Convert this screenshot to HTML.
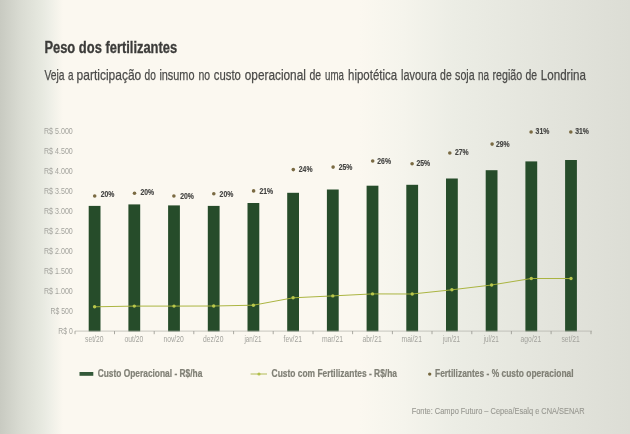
<!DOCTYPE html>
<html lang="pt-BR"><head><meta charset="utf-8"><title>Peso dos fertilizantes</title>
<style>
html,body{margin:0;padding:0;background:#fbf8f0;}
body{width:630px;height:434px;overflow:hidden;}
svg{display:block;will-change:transform;font-family:"Liberation Sans",sans-serif;}
</style></head><body>
<svg width="630" height="434" viewBox="0 0 630 434">
<defs>
<linearGradient id="bg" x1="0" y1="0" x2="1" y2="0">
<stop offset="0" stop-color="#c8cac1"/>
<stop offset="0.032" stop-color="#d9dbd2"/>
<stop offset="0.064" stop-color="#e6e8df"/>
<stop offset="0.078" stop-color="#edeee6"/>
<stop offset="0.100" stop-color="#fbf8f0"/>
<stop offset="0.57" stop-color="#fbf8f0"/>
<stop offset="0.64" stop-color="#f5f4ec"/>
<stop offset="0.72" stop-color="#ecede5"/>
<stop offset="0.84" stop-color="#e5e6de"/>
<stop offset="1" stop-color="#dcddd5"/>
</linearGradient>
</defs>
<rect width="630" height="434" fill="url(#bg)"/>

<text x="44.4" y="53" font-size="15.6" font-weight="bold" fill="#3b3b39" stroke="#3b3b39" stroke-width="0.3" textLength="132.8" lengthAdjust="spacingAndGlyphs">Peso dos fertilizantes</text>
<g font-size="15" fill="#4b4b49" stroke="#4b4b49" stroke-width="0.25">
<text x="44.5" y="79.9" textLength="20.1" lengthAdjust="spacingAndGlyphs">Veja</text>
<text x="68.0" y="79.9" textLength="5.5" lengthAdjust="spacingAndGlyphs">a</text>
<text x="76.6" y="79.9" textLength="64.7" lengthAdjust="spacingAndGlyphs">participação</text>
<text x="144.6" y="79.9" textLength="11.3" lengthAdjust="spacingAndGlyphs">do</text>
<text x="159.4" y="79.9" textLength="35.1" lengthAdjust="spacingAndGlyphs">insumo</text>
<text x="198.4" y="79.9" textLength="11.6" lengthAdjust="spacingAndGlyphs">no</text>
<text x="213.8" y="79.9" textLength="27.1" lengthAdjust="spacingAndGlyphs">custo</text>
<text x="244.8" y="79.9" textLength="61.1" lengthAdjust="spacingAndGlyphs">operacional</text>
<text x="309.5" y="79.9" textLength="11.7" lengthAdjust="spacingAndGlyphs">de</text>
<text x="325.1" y="79.9" textLength="18.9" lengthAdjust="spacingAndGlyphs">uma</text>
<text x="348.1" y="79.9" textLength="49.0" lengthAdjust="spacingAndGlyphs">hipotética</text>
<text x="401.1" y="79.9" textLength="35.8" lengthAdjust="spacingAndGlyphs">lavoura</text>
<text x="440.1" y="79.9" textLength="11.6" lengthAdjust="spacingAndGlyphs">de</text>
<text x="455.1" y="79.9" textLength="19.6" lengthAdjust="spacingAndGlyphs">soja</text>
<text x="477.9" y="79.9" textLength="11.0" lengthAdjust="spacingAndGlyphs">na</text>
<text x="492.5" y="79.9" textLength="29.7" lengthAdjust="spacingAndGlyphs">região</text>
<text x="525.5" y="79.9" textLength="11.6" lengthAdjust="spacingAndGlyphs">de</text>
<text x="540.8" y="79.9" textLength="45.1" lengthAdjust="spacingAndGlyphs">Londrina</text>
</g>
<text x="44.0" y="134.3" font-size="8.5" fill="#a3a39d" textLength="28.8" lengthAdjust="spacingAndGlyphs">R$ 5.000</text>
<text x="44.0" y="154.2" font-size="8.5" fill="#a3a39d" textLength="28.8" lengthAdjust="spacingAndGlyphs">R$ 4.500</text>
<text x="44.0" y="174.1" font-size="8.5" fill="#a3a39d" textLength="28.8" lengthAdjust="spacingAndGlyphs">R$ 4.000</text>
<text x="44.0" y="194.1" font-size="8.5" fill="#a3a39d" textLength="28.8" lengthAdjust="spacingAndGlyphs">R$ 3.500</text>
<text x="44.0" y="214.0" font-size="8.5" fill="#a3a39d" textLength="28.8" lengthAdjust="spacingAndGlyphs">R$ 3.000</text>
<text x="44.0" y="233.9" font-size="8.5" fill="#a3a39d" textLength="28.8" lengthAdjust="spacingAndGlyphs">R$ 2.500</text>
<text x="44.0" y="253.8" font-size="8.5" fill="#a3a39d" textLength="28.8" lengthAdjust="spacingAndGlyphs">R$ 2.000</text>
<text x="44.0" y="273.7" font-size="8.5" fill="#a3a39d" textLength="28.8" lengthAdjust="spacingAndGlyphs">R$ 1.500</text>
<text x="44.0" y="293.7" font-size="8.5" fill="#a3a39d" textLength="28.8" lengthAdjust="spacingAndGlyphs">R$ 1.000</text>
<text x="50.5" y="313.6" font-size="8.5" fill="#a3a39d" textLength="22.3" lengthAdjust="spacingAndGlyphs">R$ 500</text>
<text x="58.3" y="333.5" font-size="8.5" fill="#a3a39d" textLength="14.5" lengthAdjust="spacingAndGlyphs">R$ 0</text>
<rect x="88.7" y="205.9" width="11.8" height="125.5" fill="#264c2a"/>
<rect x="128.4" y="204.4" width="11.8" height="127.0" fill="#264c2a"/>
<rect x="168.1" y="205.4" width="11.8" height="126.0" fill="#264c2a"/>
<rect x="207.8" y="205.9" width="11.8" height="125.5" fill="#264c2a"/>
<rect x="247.5" y="203.0" width="11.8" height="128.4" fill="#264c2a"/>
<rect x="287.2" y="192.8" width="11.8" height="138.6" fill="#264c2a"/>
<rect x="326.9" y="189.5" width="11.8" height="141.9" fill="#264c2a"/>
<rect x="366.6" y="185.7" width="11.8" height="145.7" fill="#264c2a"/>
<rect x="406.3" y="184.8" width="11.8" height="146.6" fill="#264c2a"/>
<rect x="446.0" y="178.5" width="11.8" height="152.9" fill="#264c2a"/>
<rect x="485.7" y="170.2" width="11.8" height="161.2" fill="#264c2a"/>
<rect x="525.4" y="161.4" width="11.8" height="170.0" fill="#264c2a"/>
<rect x="565.1" y="160.0" width="11.8" height="171.4" fill="#264c2a"/>
<path d="M75 331.1H592" stroke="#b0b0a9" stroke-width="0.7" fill="none"/>
<path d="M75.0 331.1v3.1M114.5 331.1v3.1M154.2 331.1v3.1M193.8 331.1v3.1M233.6 331.1v3.1M273.2 331.1v3.1M313.0 331.1v3.1M352.6 331.1v3.1M392.4 331.1v3.1M432.0 331.1v3.1M471.8 331.1v3.1M511.4 331.1v3.1M551.1 331.1v3.1M591.0 331.1v3.1" stroke="#8d8d87" stroke-width="0.75" fill="none"/>
<polyline points="94.6,306.8 134.3,306.1 174.0,306.1 213.7,306.0 253.4,305.2 293.1,297.8 332.8,295.9 372.5,293.9 412.2,294.0 451.9,289.8 491.6,285.0 531.3,278.5 571.0,278.5" fill="none" stroke="#a6b138" stroke-width="0.95"/>
<circle cx="94.6" cy="306.8" r="1.7" fill="#b8c74c"/>
<circle cx="134.3" cy="306.1" r="1.7" fill="#b8c74c"/>
<circle cx="174.0" cy="306.1" r="1.7" fill="#b8c74c"/>
<circle cx="213.7" cy="306.0" r="1.7" fill="#b8c74c"/>
<circle cx="253.4" cy="305.2" r="1.7" fill="#b8c74c"/>
<circle cx="293.1" cy="297.8" r="1.7" fill="#b8c74c"/>
<circle cx="332.8" cy="295.9" r="1.7" fill="#b8c74c"/>
<circle cx="372.5" cy="293.9" r="1.7" fill="#b8c74c"/>
<circle cx="412.2" cy="294.0" r="1.7" fill="#b8c74c"/>
<circle cx="451.9" cy="289.8" r="1.7" fill="#b8c74c"/>
<circle cx="491.6" cy="285.0" r="1.7" fill="#b8c74c"/>
<circle cx="531.3" cy="278.5" r="1.7" fill="#b8c74c"/>
<circle cx="571.0" cy="278.5" r="1.7" fill="#b8c74c"/>
<circle cx="94.7" cy="196.0" r="1.8" fill="#7a6a42"/>
<text x="100.7" y="196.9" font-size="8.2" font-weight="bold" fill="#444442" stroke="#444442" stroke-width="0.15" textLength="13.7" lengthAdjust="spacingAndGlyphs">20%</text>
<circle cx="134.5" cy="193.2" r="1.8" fill="#7a6a42"/>
<text x="140.4" y="194.9" font-size="8.2" font-weight="bold" fill="#444442" stroke="#444442" stroke-width="0.15" textLength="13.7" lengthAdjust="spacingAndGlyphs">20%</text>
<circle cx="173.9" cy="196.0" r="1.8" fill="#7a6a42"/>
<text x="180.2" y="198.8" font-size="8.2" font-weight="bold" fill="#444442" stroke="#444442" stroke-width="0.15" textLength="13.7" lengthAdjust="spacingAndGlyphs">20%</text>
<circle cx="213.8" cy="193.7" r="1.8" fill="#7a6a42"/>
<text x="219.6" y="196.9" font-size="8.2" font-weight="bold" fill="#444442" stroke="#444442" stroke-width="0.15" textLength="13.7" lengthAdjust="spacingAndGlyphs">20%</text>
<circle cx="253.6" cy="190.9" r="1.8" fill="#7a6a42"/>
<text x="259.5" y="193.5" font-size="8.2" font-weight="bold" fill="#444442" stroke="#444442" stroke-width="0.15" textLength="13.7" lengthAdjust="spacingAndGlyphs">21%</text>
<circle cx="293.3" cy="169.6" r="1.8" fill="#7a6a42"/>
<text x="298.8" y="172.2" font-size="8.2" font-weight="bold" fill="#444442" stroke="#444442" stroke-width="0.15" textLength="13.7" lengthAdjust="spacingAndGlyphs">24%</text>
<circle cx="333.1" cy="167.1" r="1.8" fill="#7a6a42"/>
<text x="338.7" y="170.0" font-size="8.2" font-weight="bold" fill="#444442" stroke="#444442" stroke-width="0.15" textLength="13.7" lengthAdjust="spacingAndGlyphs">25%</text>
<circle cx="372.7" cy="161.0" r="1.8" fill="#7a6a42"/>
<text x="377.3" y="164.0" font-size="8.2" font-weight="bold" fill="#444442" stroke="#444442" stroke-width="0.15" textLength="13.7" lengthAdjust="spacingAndGlyphs">26%</text>
<circle cx="412.1" cy="163.8" r="1.8" fill="#7a6a42"/>
<text x="416.5" y="166.2" font-size="8.2" font-weight="bold" fill="#444442" stroke="#444442" stroke-width="0.15" textLength="13.7" lengthAdjust="spacingAndGlyphs">25%</text>
<circle cx="449.8" cy="153.0" r="1.8" fill="#7a6a42"/>
<text x="454.9" y="155.3" font-size="8.2" font-weight="bold" fill="#444442" stroke="#444442" stroke-width="0.15" textLength="13.7" lengthAdjust="spacingAndGlyphs">27%</text>
<circle cx="492.1" cy="144.1" r="1.8" fill="#7a6a42"/>
<text x="495.9" y="146.8" font-size="8.2" font-weight="bold" fill="#444442" stroke="#444442" stroke-width="0.15" textLength="13.7" lengthAdjust="spacingAndGlyphs">29%</text>
<circle cx="531.1" cy="132.0" r="1.8" fill="#7a6a42"/>
<text x="535.6" y="134.4" font-size="8.2" font-weight="bold" fill="#444442" stroke="#444442" stroke-width="0.15" textLength="13.7" lengthAdjust="spacingAndGlyphs">31%</text>
<circle cx="570.8" cy="132.0" r="1.8" fill="#7a6a42"/>
<text x="575.2" y="134.4" font-size="8.2" font-weight="bold" fill="#444442" stroke="#444442" stroke-width="0.15" textLength="13.7" lengthAdjust="spacingAndGlyphs">31%</text>
<text x="85.0" y="342.4" font-size="8.2" fill="#a3a39d" textLength="18.4" lengthAdjust="spacingAndGlyphs">set/20</text>
<text x="124.5" y="342.4" font-size="8.2" fill="#a3a39d" textLength="18.8" lengthAdjust="spacingAndGlyphs">out/20</text>
<text x="163.4" y="342.4" font-size="8.2" fill="#a3a39d" textLength="20.3" lengthAdjust="spacingAndGlyphs">nov/20</text>
<text x="203.1" y="342.4" font-size="8.2" fill="#a3a39d" textLength="20.3" lengthAdjust="spacingAndGlyphs">dez/20</text>
<text x="244.4" y="342.4" font-size="8.2" fill="#a3a39d" textLength="17.1" lengthAdjust="spacingAndGlyphs">jan/21</text>
<text x="283.5" y="342.4" font-size="8.2" fill="#a3a39d" textLength="18.4" lengthAdjust="spacingAndGlyphs">fev/21</text>
<text x="321.9" y="342.4" font-size="8.2" fill="#a3a39d" textLength="21.1" lengthAdjust="spacingAndGlyphs">mar/21</text>
<text x="362.5" y="342.4" font-size="8.2" fill="#a3a39d" textLength="19.2" lengthAdjust="spacingAndGlyphs">abr/21</text>
<text x="401.6" y="342.4" font-size="8.2" fill="#a3a39d" textLength="20.3" lengthAdjust="spacingAndGlyphs">mai/21</text>
<text x="442.9" y="342.4" font-size="8.2" fill="#a3a39d" textLength="17.1" lengthAdjust="spacingAndGlyphs">jun/21</text>
<text x="483.7" y="342.4" font-size="8.2" fill="#a3a39d" textLength="15.0" lengthAdjust="spacingAndGlyphs">jul/21</text>
<text x="520.6" y="342.4" font-size="8.2" fill="#a3a39d" textLength="20.7" lengthAdjust="spacingAndGlyphs">ago/21</text>
<text x="561.4" y="342.4" font-size="8.2" fill="#a3a39d" textLength="18.4" lengthAdjust="spacingAndGlyphs">set/21</text>
<rect x="79.5" y="372" width="13.8" height="3.8" fill="#335939"/>
<text x="97.7" y="377.2" font-size="10.3" font-weight="bold" fill="#808076" stroke="#808076" stroke-width="0.22" textLength="104.6" lengthAdjust="spacingAndGlyphs">Custo Operacional - R$/ha</text>
<path d="M250.6 374H267" stroke="#a9b446" stroke-width="0.9"/><circle cx="259" cy="374" r="1.6" fill="#b2c04a"/>
<text x="271.6" y="377.2" font-size="10.3" font-weight="bold" fill="#808076" stroke="#808076" stroke-width="0.22" textLength="125.4" lengthAdjust="spacingAndGlyphs">Custo com Fertilizantes - R$/ha</text>
<circle cx="429.7" cy="374.1" r="1.7" fill="#76683f"/>
<text x="435" y="377.2" font-size="10.3" font-weight="bold" fill="#808076" stroke="#808076" stroke-width="0.22" textLength="138.6" lengthAdjust="spacingAndGlyphs">Fertilizantes - % custo operacional</text>
<text x="411.7" y="414.4" font-size="9.3" fill="#979790" stroke="#979790" stroke-width="0.1" textLength="173" lengthAdjust="spacingAndGlyphs">Fonte: Campo Futuro – Cepea/Esalq e CNA/SENAR</text>
</svg></body></html>
